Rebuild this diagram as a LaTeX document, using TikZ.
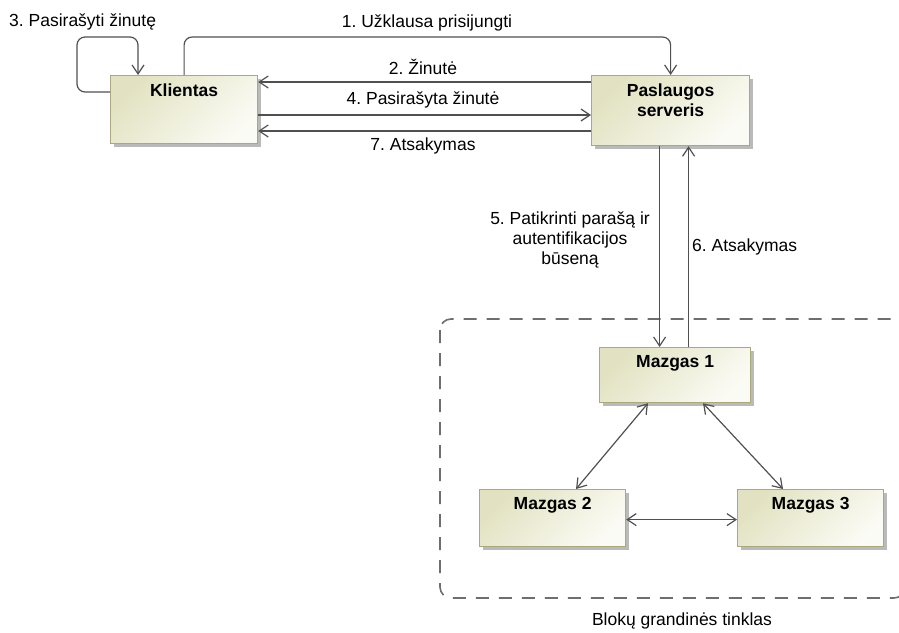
\documentclass[tikz,border=0pt]{standalone}
\usepackage{fontspec}
\setmainfont{Liberation Sans}
\usetikzlibrary{arrows.meta,shadows}
\frenchspacing

\definecolor{boxdark}{HTML}{E2E2C2}
\definecolor{boxlight}{HTML}{FBFBF5}
\definecolor{boxline}{HTML}{A9A97E}
\definecolor{wire}{HTML}{505050}
\definecolor{fence}{HTML}{6E6E6E}

\tikzset{
  block/.style={rectangle, draw=boxline, line width=1.2pt, inner sep=0pt,
    anchor=north west, top color=boxdark, bottom color=boxlight, shading angle=45,
    drop shadow={shadow xshift=3.5pt, shadow yshift=-3.5pt, fill=black!27, opacity=1}},
  title/.style={font=\bfseries\fontsize{17.5}{20}\selectfont, align=center,
    inner sep=0pt, anchor=north},
  note/.style={font=\fontsize{17.5}{20}\selectfont, align=center, inner sep=0pt},
  barb/.tip={Straight Barb[length=9pt,width=12pt,line width=1.2pt]},
  flow/.style={draw=wire, line width=1.2pt, -barb},
  twoway/.style={draw=wire, line width=1.2pt, barb-barb},
  frame/.style={draw=fence, line width=1.6pt, dash pattern=on 13pt off 10pt,
    rounded corners=11pt}
}

\begin{document}
\begin{tikzpicture}[x=1pt,y=-1pt]
\useasboundingbox (0,0) rectangle (899,632);
\clip (0,0) rectangle (899,632);

% blockchain network frame
\draw[frame] (440,319) rectangle (905,598);
\node[note] (netT) at (682,621) {Blokų grandinės tinklas};

% participants
\node[block, minimum width=147pt, minimum height=68pt] (kl) at (110,75) {};
\node[title] (klT) at ([yshift=-8.5pt]kl.north) {Klientas};

\node[block, minimum width=158pt, minimum height=70pt] (srv) at (591,75) {};
\node[title] (srvT) at ([yshift=-8.5pt]srv.north) {Paslaugos\\serveris};

\node[block, minimum width=151pt, minimum height=55pt] (m1) at (599,347) {};
\node[title] (m1T) at ([yshift=-8pt]m1.north) {Mazgas 1};

\node[block, minimum width=146pt, minimum height=57pt] (m2) at (479,489) {};
\node[title] (m2T) at ([yshift=-8pt]m2.north) {Mazgas 2};

\node[block, minimum width=146pt, minimum height=57pt] (m3) at (737,489) {};
\node[title] (m3T) at ([yshift=-8pt]m3.north) {Mazgas 3};

% client <-> server messages
\draw[flow, rounded corners=8pt] (kl.north) |- (427,37) -| (srv.north);
\node[note] (l1) at (427,23) {1. Užklausa prisijungti};

\draw[flow] ([yshift=-7pt]srv.north west) -- ([yshift=-7pt]kl.north east);
\node[note] (l2) at (423,67) {2. Žinutė};

\draw[flow, rounded corners=8pt] ([yshift=-17pt]kl.north west) -| (77,37) -| ([xshift=28pt]kl.north west);
\node[note, anchor=west] (l3) at (9,22) {3. Pasirašyti žinutę};

\draw[flow] ([yshift=-40pt]kl.north east) -- ([yshift=-40pt]srv.north west);
\node[note] (l4) at (423,100) {4. Pasirašyta žinutė};

\draw[flow] ([yshift=-56pt]srv.north west) -- ([yshift=-56pt]kl.north east);
\node[note] (l7) at (423,146) {7. Atsakymas};

% server <-> network
\draw[flow] ([xshift=-11pt]srv.south) -- ([xshift=-11pt]srv.south |- m1.north);
\node[note] (l5) at (570,240) {5. Patikrinti parašą ir\\autentifikacijos\\būseną};

\draw[flow] ([xshift=18pt]srv.south |- m1.north) -- ([xshift=18pt]srv.south);
\node[note, anchor=west] (l6) at (692,247) {6. Atsakymas};

% links between nodes
\draw[twoway] ([xshift=49pt]m1.south west) -- ([xshift=97pt]m2.north west);
\draw[twoway] ([xshift=104pt]m1.south west) -- ([xshift=46pt]m3.north west);
\draw[twoway] ([yshift=-1.5pt]m2.east) -- ([yshift=-1.5pt]m3.west);
\end{tikzpicture}
\end{document}
